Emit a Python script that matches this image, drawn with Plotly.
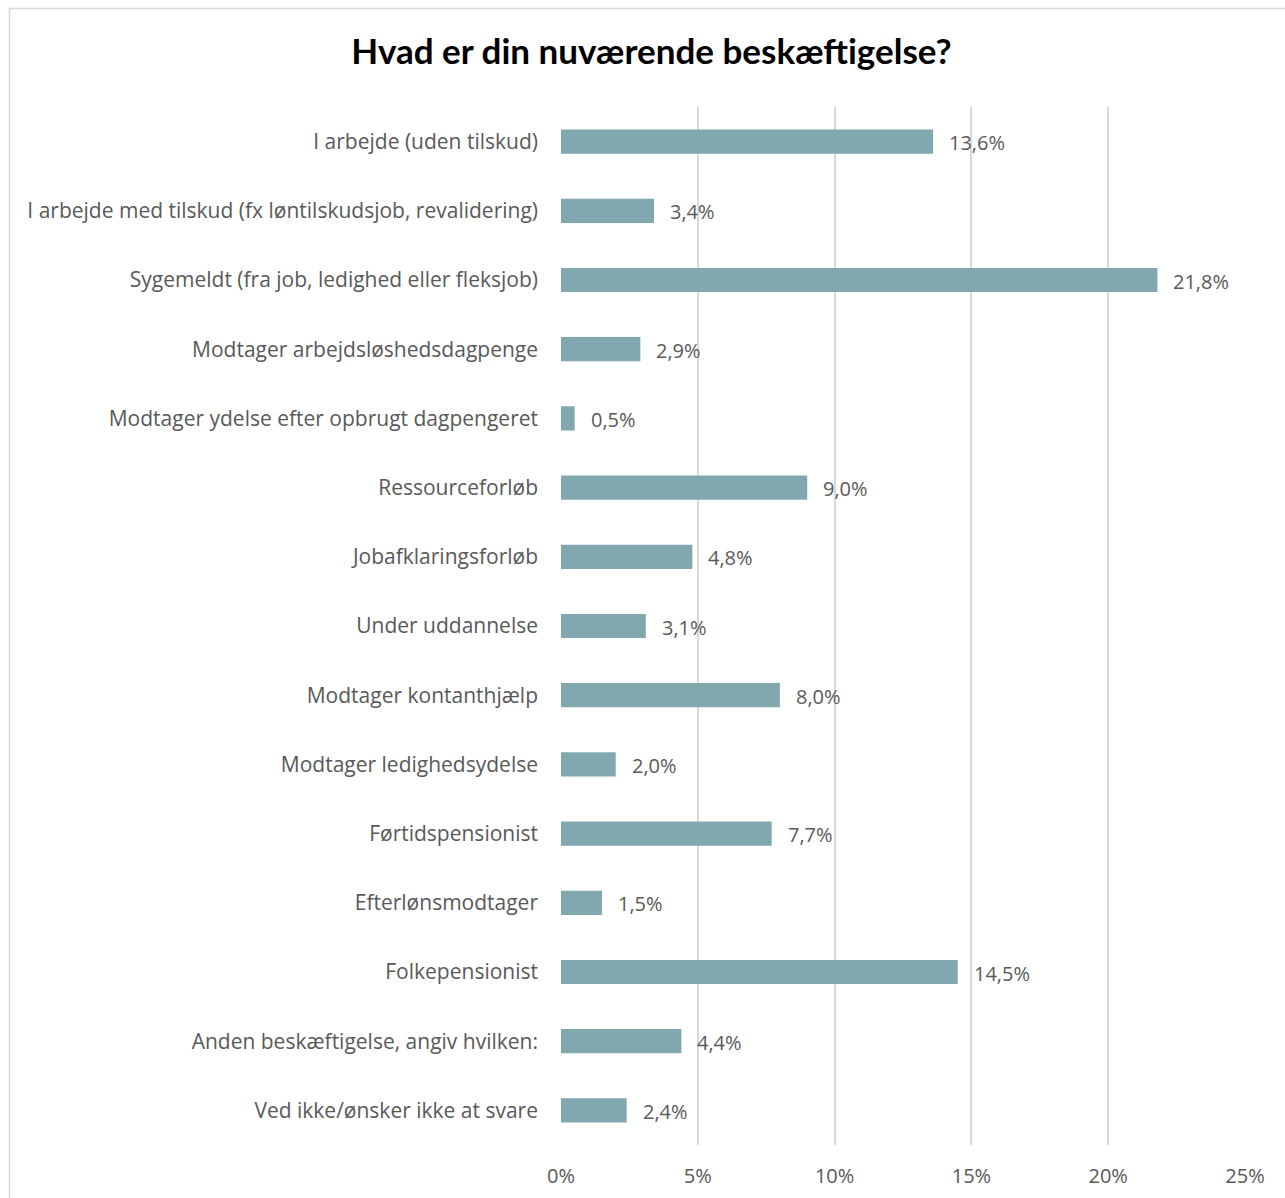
import plotly.graph_objects as go

categories = [
    "I arbejde (uden tilskud)",
    "I arbejde med tilskud (fx løntilskudsjob, revalidering)",
    "Sygemeldt (fra job, ledighed eller fleksjob)",
    "Modtager arbejdsløshedsdagpenge",
    "Modtager ydelse efter opbrugt dagpengeret",
    "Ressourceforløb",
    "Jobafklaringsforløb",
    "Under uddannelse",
    "Modtager kontanthjælp",
    "Modtager ledighedsydelse",
    "Førtidspensionist",
    "Efterlønsmodtager",
    "Folkepensionist",
    "Anden beskæftigelse, angiv hvilken:",
    "Ved ikke/ønsker ikke at svare",
]
values = [13.6, 3.4, 21.8, 2.9, 0.5, 9.0, 4.8, 3.1, 8.0, 2.0, 7.7, 1.5, 14.5, 4.4, 2.4]
tick_values = [0, 5, 10, 15, 20, 25]
tick_labels = ["0%", "5%", "10%", "15%", "20%", "25%"]
title_text = "Hvad er din nuværende beskæftigelse?"

FONT = "Open Sans"
TITLE_FONT = "Lato"
TEXT_GREY = "#595959"
BAR_COLOR = "#80A8AE"
GRID = "#D9D9D9"


def fmt(v):
    return f"{v:.1f}".replace(".", ",") + "%"


fig = go.Figure(
    go.Bar(
        x=values,
        y=categories,
        orientation="h",
        marker=dict(color=BAR_COLOR, line=dict(width=0)),
        width=0.35,
        hoverinfo="skip",
    )
)

# value labels to the right of each bar
for cat, v in zip(categories, values):
    fig.add_annotation(
        x=v, y=cat, text=fmt(v), showarrow=False,
        xanchor="left", yanchor="middle", xshift=14, yshift=-1,
        font=dict(family=FONT, size=20, color=TEXT_GREY),
    )

# outer chart border
fig.add_shape(
    type="rect", xref="paper", yref="paper",
    x0=-0.8063, x1=1.2, y0=-0.2, y1=1.0949,
    line=dict(color=GRID, width=1.5), fillcolor="rgba(0,0,0,0)", layer="below",
)

fig.update_layout(
    width=1285, height=1198,
    margin=dict(l=561, r=40, t=107, b=53, autoexpand=False),
    paper_bgcolor="white", plot_bgcolor="white",
    showlegend=False,
    title=dict(
        text=f"<b>{title_text}</b>", x=651.5 / 1285, xref="container", xanchor="center",
        y=1 - 52 / 1198, yref="container", yanchor="middle",
        font=dict(family=TITLE_FONT, size=35, color="black"),
    ),
    xaxis=dict(
        range=[0, 25], tickvals=tick_values, ticktext=tick_labels,
        showgrid=True, gridcolor=GRID, gridwidth=1.5,
        zeroline=False, showline=False, ticks="",
        ticklabelstandoff=17, automargin=False,
        tickfont=dict(family=FONT, size=20, color=TEXT_GREY),
        fixedrange=True,
    ),
    yaxis=dict(
        autorange="reversed", showgrid=False, zeroline=False,
        showline=False, ticks="", ticklabelstandoff=22, automargin=False,
        tickfont=dict(family=FONT, size=21, color=TEXT_GREY),
        fixedrange=True,
    ),
    font=dict(family=FONT),
)

fig.write_html("out.html")
